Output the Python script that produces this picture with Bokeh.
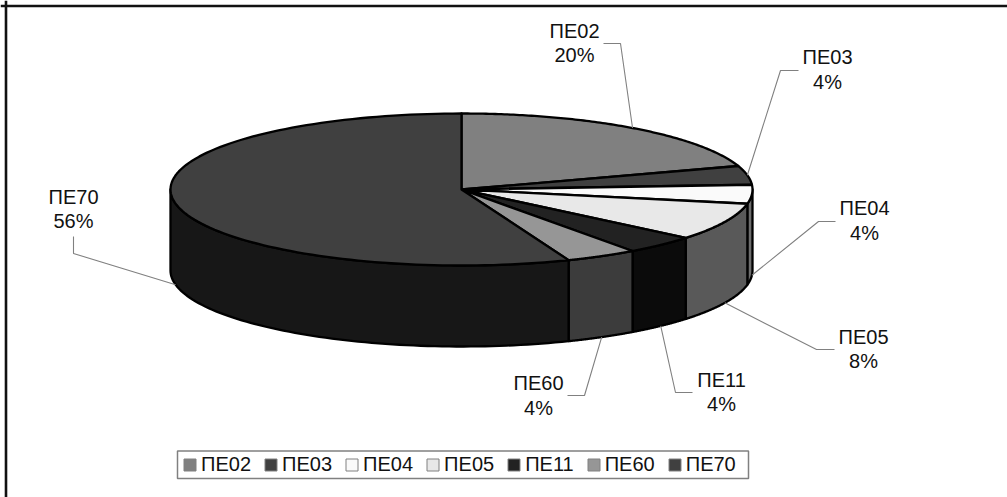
import numpy as np
from bokeh.core.properties import value
from bokeh.embed import file_html
from bokeh.models import Legend, LegendItem, Range1d
from bokeh.plotting import figure
from bokeh.resources import INLINE

categories = ["ΠΕ02", "ΠΕ03", "ΠΕ04", "ΠΕ05", "ΠΕ11", "ΠΕ60", "ΠΕ70"]
shares = [20, 4, 4, 8, 4, 4, 56]
share_labels = ["20%", "4%", "4%", "8%", "4%", "4%", "56%"]
top_colors = ["#808080", "#404040", "#fafafa", "#e8e8e8", "#222222", "#969696", "#404040"]
side_colors = ["#606060", "#303030", "#6e6e6e", "#595959", "#0b0b0b", "#3c3c3c", "#171717"]

# layout, in page pixels
CX, CY, RX, RY, DEPTH = 461, 189, 291, 76, 81
label_x = [574, 827, 864, 863, 721, 538, 73]
label_y1 = [30.5, 56, 207, 336, 379, 382, 196]
label_y2 = [54.5, 81, 232, 360, 403, 407, 220]
# leader: outer end, then elbow; the inner end is found from the slice's mid angle
lead_x0 = [603, 798, 835, 834, 692, 567, 73]
lead_y0 = [43, 70, 221, 349, 392, 395, 236]
lead_x1 = [620, 780, 818, 816, 675, 584, 73]
lead_y1 = [43, 70, 221, 349, 392, 395, 253]


def rim(deg, drop=0.0):
    t = np.radians(deg)
    return CX + RX * np.sin(t), CY - RY * np.cos(t) + drop


p = figure(width=1007, height=497, output_backend="svg", toolbar_location=None,
           x_range=Range1d(0, 1007), y_range=Range1d(497, 0),
           min_border=0, outline_line_color=None, background_fill_color="white",
           border_fill_color="white")
p.xaxis.visible = False
p.yaxis.visible = False
p.grid.visible = False

# frame lines: top and left only
p.segment(x0=[0, 5.5], y0=[5.5, 0], x1=[1007, 5.5], y1=[5.5, 497],
          line_color="#111111", line_width=2.6)

edges = np.cumsum([0] + shares) * 3.6

# sides of the disc, only where the rim faces the viewer
for a, b, col in zip(edges[:-1], edges[1:], side_colors):
    lo, hi = max(a, 90.0), min(b, 270.0)
    if lo >= hi:
        continue
    ang = np.linspace(lo, hi, 80)
    xs, ys = rim(ang)
    xb, yb = rim(ang[::-1], DEPTH)
    p.patch(np.r_[xs, xb], np.r_[ys, yb], fill_color=col, line_color="#000000",
            line_width=2.3, line_join="round")

# top faces
for a, b, col in zip(edges[:-1], edges[1:], top_colors):
    ang = np.linspace(a, b, 120)
    xs, ys = rim(ang)
    p.patch(np.r_[CX, xs], np.r_[CY, ys], fill_color=col, line_color="#000000",
            line_width=2.3, line_join="round")

# leaders
mids = (edges[:-1] + edges[1:]) / 2
for i, m in enumerate(mids):
    drop = DEPTH if 90 <= m <= 270 else 0
    ax, ay = rim(m, drop)
    p.line([lead_x0[i], lead_x1[i], ax], [lead_y0[i], lead_y1[i], ay],
           line_color="#808080", line_width=1.1)

# labels
for ys, txt in ((label_y1, categories), (label_y2, share_labels)):
    p.text(x=label_x, y=ys, text=txt, text_font=value("Liberation Sans"),
           text_font_size="20px", text_align="center", text_baseline="middle",
           text_color="#111111")

# legend box
p.quad(left=[177], right=[748], top=[450.5], bottom=[478], fill_color="white",
       line_color="#808080", line_width=1.5)

# legend: key renderers carry no visible data, only the key's style
items = []
for name, col in zip(categories, top_colors):
    r = p.quad(left=[np.nan], right=[np.nan], top=[np.nan], bottom=[np.nan], fill_color=col,
               line_color="#808080", line_width=1)
    items.append(LegendItem(label=value(name), renderers=[r]))
legend = Legend(items=items, orientation="horizontal", location=(182, 21),
                glyph_width=15, glyph_height=15, label_standoff=4, spacing=12,
                padding=0, margin=0, label_text_font="Liberation Sans",
                label_text_font_size="20px", label_text_color="#111111",
                label_height=14, border_line_color=None,
                background_fill_alpha=0)
p.add_layout(legend, "center")

open("out.html", "w").write(file_html(p, INLINE))
